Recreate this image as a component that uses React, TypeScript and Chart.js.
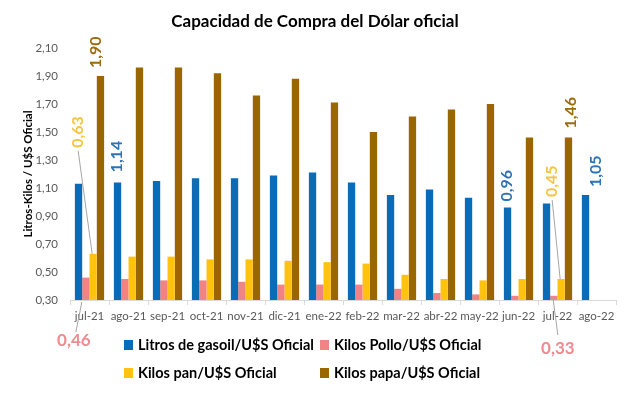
import React, { useEffect, useRef } from 'react';
import { Chart, registerables } from 'chart.js';

Chart.register(...registerables);

const categories = ['jul-21', 'ago-21', 'sep-21', 'oct-21', 'nov-21', 'dic-21', 'ene-22', 'feb-22', 'mar-22', 'abr-22', 'may-22', 'jun-22', 'jul-22', 'ago-22'];
const gasoil = [1.13, 1.14, 1.15, 1.17, 1.17, 1.19, 1.21, 1.14, 1.05, 1.09, 1.03, 0.96, 0.99, 1.05];
const pollo = [0.46, 0.45, 0.44, 0.44, 0.43, 0.41, 0.41, 0.41, 0.38, 0.35, 0.34, 0.33, 0.33, null];
const pan = [0.63, 0.61, 0.61, 0.59, 0.59, 0.58, 0.57, 0.56, 0.48, 0.45, 0.44, 0.45, 0.45, null];
const papa = [1.90, 1.96, 1.96, 1.92, 1.76, 1.88, 1.71, 1.50, 1.61, 1.66, 1.70, 1.46, 1.46, null];

const seriesNames = ['Litros de gasoil/U$S Oficial', 'Kilos Pollo/U$S Oficial', 'Kilos pan/U$S Oficial', 'Kilos papa/U$S Oficial'];
const seriesColors = ['#0A6BB7', '#F28385', '#FFC20E', '#9A6600'];
const labelColors = ['#2C74B5', '#EE8B90', '#F5C443', '#9C6A10'];

const title = 'Capacidad de Compra del Dólar oficial';
const yTitle = 'Litros-Kilos / U$S Oficial';
const yMin = 0.3;
const yMax = 2.1;
const yStep = 0.2;

// labelled points: dataset, index, style (vertical above bar / horizontal below axis)
const pointLabels = [
  { ds: 3, i: 0, dx: -5, gap: 8 },
  { ds: 2, i: 0, dx: -15, gap: 106, leader: true },
  { ds: 0, i: 1, dx: -1, gap: 10 },
  { ds: 0, i: 11, dx: -1, gap: 6 },
  { ds: 2, i: 12, dx: -9, gap: 82, leader: true },
  { ds: 3, i: 12, dx: 2, gap: 9 },
  { ds: 0, i: 13, dx: 10, gap: 8 },
];
const belowLabels = [
  { ds: 1, i: 0, dx: -12, dy: 41, lx1: -4, ly1: 2, lx2: -10, ly2: 32 },
  { ds: 1, i: 12, dx: 4, dy: 49, lx1: -1, ly1: -3, lx2: 4, ly2: 35 },
];

const FONT = 'Lato, "Open Sans", sans-serif';
const fmt = (v: number) => v.toFixed(2).replace('.', ',');

const overlayPlugin = {
  id: 'overlay',
  afterDraw(chart: any) {
    const ctx = chart.ctx as CanvasRenderingContext2D;
    const area = chart.chartArea;
    ctx.save();
    // title
    ctx.fillStyle = '#000';
    ctx.font = `bold 17px ${FONT}`;
    ctx.textAlign = 'center';
    ctx.textBaseline = 'middle';
    ctx.fillText(title, chart.width / 2, 22);

    // vertical labels
    pointLabels.forEach((p) => {
      const el = chart.getDatasetMeta(p.ds).data[p.i];
      const v = chart.data.datasets[p.ds].data[p.i];
      const x = el.x + p.dx;
      const y = el.y - p.gap;
      if (p.leader) {
        ctx.strokeStyle = '#A6A6A6';
        ctx.lineWidth = 1;
        ctx.beginPath();
        ctx.moveTo(x, y + 3);
        ctx.lineTo(el.x - 1, el.y);
        ctx.stroke();
      }
      ctx.save();
      ctx.translate(x, y);
      ctx.rotate(-Math.PI / 2);
      ctx.font = `bold 16px ${FONT}`;
      ctx.fillStyle = labelColors[p.ds];
      ctx.textAlign = 'left';
      ctx.textBaseline = 'middle';
      ctx.fillText(fmt(v), 0, 0);
      ctx.restore();
    });

    // horizontal labels below axis
    belowLabels.forEach((p) => {
      const el = chart.getDatasetMeta(p.ds).data[p.i];
      const v = chart.data.datasets[p.ds].data[p.i];
      const base = area.bottom;
      ctx.strokeStyle = '#A6A6A6';
      ctx.lineWidth = 1;
      ctx.beginPath();
      ctx.moveTo(el.x + p.lx1, base + p.ly1);
      ctx.lineTo(el.x + p.lx2, base + p.ly2);
      ctx.stroke();
      ctx.font = `bold 17px ${FONT}`;
      ctx.fillStyle = labelColors[p.ds];
      ctx.textAlign = 'center';
      ctx.textBaseline = 'middle';
      ctx.fillText(fmt(v), el.x + p.dx, base + p.dy);
    });

    // legend (2 x 2)
    const colX = [124, 320];
    const rowY = [area.bottom + 45, area.bottom + 73];
    ctx.font = `bold 14.5px ${FONT}`;
    ctx.textAlign = 'left';
    ctx.textBaseline = 'middle';
    seriesNames.forEach((name, k) => {
      const cx = colX[k % 2];
      const cy = rowY[Math.floor(k / 2)];
      ctx.fillStyle = seriesColors[k];
      ctx.fillRect(cx, cy - 5, 9, 10);
      ctx.fillStyle = '#000';
      ctx.fillText(name, cx + 14, cy);
    });
    ctx.restore();
  },
};

export default function App() {
  const ref = useRef<HTMLCanvasElement | null>(null);
  useEffect(() => {
    if (!ref.current) return;
    const datasets = [gasoil, pollo, pan, papa].map((d, k) => ({
      label: seriesNames[k],
      data: d,
      backgroundColor: seriesColors[k],
      borderWidth: 0,
      categoryPercentage: 0.75,
      barPercentage: 1.0,
    }));
    const chart = new Chart(ref.current, {
      type: 'bar',
      data: { labels: categories, datasets },
      options: {
        animation: false,
        responsive: false,
        maintainAspectRatio: false,
        layout: { padding: { top: 48, right: 14, left: 0, bottom: 0 } },
        plugins: { legend: { display: false }, title: { display: false }, tooltip: { enabled: false } },
        scales: {
          x: {
            grid: { display: true, drawOnChartArea: false, drawTicks: true, tickLength: 5, offset: true, color: '#D9D9D9' },
            border: { display: true, color: '#D9D9D9' },
            ticks: { color: '#595959', font: { family: FONT, size: 11.5 }, padding: 4, maxRotation: 0, autoSkip: false },
            afterFit: (s: any) => { s.height = 93; },
          },
          y: {
            min: yMin,
            max: yMax,
            grid: { display: false, drawTicks: false },
            border: { display: false },
            ticks: {
              stepSize: yStep,
              color: '#595959',
              font: { family: FONT, size: 11.5 },
              padding: 12,
              callback: (v: any) => fmt(Number(v)),
            },
            title: {
              display: true,
              text: yTitle,
              color: '#000',
              font: { family: FONT, size: 11.5, weight: 'bold' },
              padding: { top: 21, bottom: 0 },
            },
            afterFit: (s: any) => { s.width = 70; },
          },
        },
      },
      plugins: [overlayPlugin],
    });
    return () => chart.destroy();
  }, []);
  return (
    <div style={{ position: 'fixed', left: 0, top: 0, width: 630, height: 393, background: '#fff' }}>
      <canvas ref={ref} width={630} height={393} style={{ width: 630, height: 393, display: 'block' }} />
    </div>
  );
}
